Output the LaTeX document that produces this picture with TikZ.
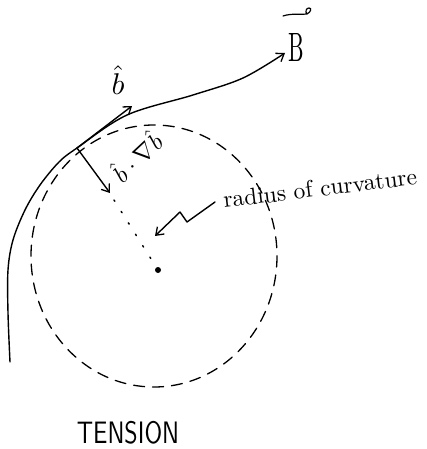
\documentclass[tikz,border=0pt]{standalone}
\usetikzlibrary{arrows.meta}
\begin{document}
\begin{tikzpicture}[x=1pt,y=-1pt,
  ink/.style={line width=1.4pt,line cap=round,line join=round},
  barb/.style={-{Straight Barb[length=7pt,width=10pt,line width=1.3pt]}},
  lbl/.style={inner sep=0pt}]
\useasboundingbox (0,0) rectangle (427,449);
% coordinates
\coordinate (J) at (77,148);
\coordinate (C) at (158,270);
\coordinate (Bt) at (285,53);
\coordinate (bt) at (132,106);
\coordinate (nt) at (110,193);
% main field line
\draw[ink,barb] plot[smooth,tension=0.55] coordinates {(10,362) (8,313) (8,270) (13,240) (25,210) (40,185) (59,162) (J) (127,115) (193,95) (243,78) (Bt)};
% b-hat arrow
\draw[ink,barb] (J) -- (bt);
% curvature arrow
\draw[ink,barb] (J) -- (nt);
% dashed osculating circle
\draw[line width=1.3pt,dash pattern=on 11pt off 8pt,line cap=round] (154,256) ellipse [x radius=123, y radius=131];
% dotted radius
\coordinate (rs) at (114,200);
\draw[line width=1.5pt,dash pattern=on 1.5pt off 12pt,line cap=round] (rs) -- (C);
\fill (C) circle [radius=3];
% zigzag pointer
\coordinate (z0) at (215,202);
\coordinate (z1) at (187,222);
\coordinate (z2) at (180,212);
\coordinate (z3) at (155,236);
\draw[ink,barb] (z0) -- (z1) -- (z2) -- (z3);
% labels
\node[lbl,scale=3] (blab) at (118,80) {$\hat{b}$};
\node[lbl,scale=2.4,rotate=43] (klab) at (136,156) {$\hat{b}\cdot\nabla\hat{b}$};
\node[lbl,scale=2.35,rotate=7] (rlab) at (320,188) {radius of curvature};
\node[lbl,xscale=2.2,yscale=4.1] (Blab) at (296,48) {B};
\draw[line width=1.2pt,line cap=round] (283,16) .. controls (292,13) and (300,15) .. (307,14) .. controls (311,12) and (312,8) .. (309,8) .. controls (306,8) and (305,12) .. (307,14);
\node[lbl,font=\sffamily,xscale=2.4,yscale=3.1] (tens) at (128,433) {TENSION};
\end{tikzpicture}
\end{document}
